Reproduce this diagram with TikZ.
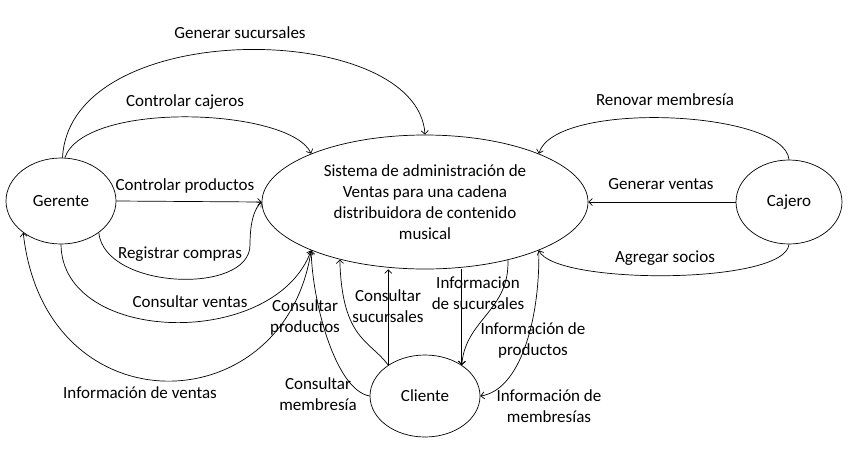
\documentclass[tikz,border=0pt]{standalone}
\usepackage{fontspec}
\setmainfont{Carlito}
\usetikzlibrary{positioning, arrows.meta, shapes.geometric}

\begin{document}
\begin{tikzpicture}[
  x=1pt, y=-1pt,
  font=\fontsize{17}{21}\selectfont,
  actor/.style={ellipse, draw, line width=0.7pt, inner sep=0pt, align=center},
  lbl/.style={align=center, inner sep=1pt},
  arr/.style={-{Straight Barb[length=3.5pt,width=7pt]}, line width=0.7pt}
]
  \useasboundingbox (0,0) rectangle (852,448);
  % entidades
  \node[actor, minimum width=110, minimum height=86] (ger) at (61,201) {Gerente};
  \node[actor, minimum width=326, minimum height=134] (sis) at (425,202) {Sistema de administración de\\Ventas para una cadena\\distribuidora de contenido\\musical};
  \node[actor, minimum width=106, minimum height=84] (caj) at (789,202) {Cajero};
  \node[actor, minimum width=110, minimum height=82] (cli) at (425,396) {Cliente};
  % etiquetas
  \node[lbl] (l1) at (240,33) {Generar sucursales};
  \node[lbl] (l2) at (185,102) {Controlar cajeros};
  \node[lbl] (l3) at (185,186) {Controlar productos};
  \node[lbl] (l4) at (180,254) {Registrar compras};
  \node[lbl] (l5) at (190,302) {Consultar ventas};
  \node[lbl] (l6) at (140,393) {Información de ventas};
  \node[lbl] (l7) at (665,100) {Renovar membresía};
  \node[lbl] (l8) at (661,184) {Generar ventas};
  \node[lbl] (l9) at (665,258) {Agregar socios};
  \node[lbl] (l10) at (305,317) {Consultar\\productos};
  \node[lbl] (l11) at (388,306) {Consultar\\sucursales};
  \node[lbl] (l12) at (478,293) {Informacion\\de sucursales};
  \node[lbl] (l13) at (533,340) {Información de\\productos};
  \node[lbl] (l14) at (318,394) {Consultar\\membresía};
  \node[lbl] (l15) at (549,406) {Información de\\membresías};
  % flujos del gerente
  \draw[arr] (ger.88) .. controls (70,15) and (418,20) .. (sis.north);
  \draw[arr] (ger.85) .. controls (85,100) and (290,108) .. (sis.157);
  \draw[arr] (ger.east) -- (sis.west);
  \draw[arr] (ger.-40) .. controls (105,290) and (250,295) .. (250,245) .. controls (250,220) and (255,208) .. (sis.west);
  \draw[arr] (ger.south) .. controls (62,345) and (275,350) .. (sis.203);
  \draw[arr] (sis.203) .. controls (285,425) and (45,430) .. (ger.220);
  % flujos del cajero
  \draw[arr] (caj.north) .. controls (785,110) and (555,100) .. (sis.23);
  \draw[arr] (caj.west) -- (sis.east);
  \draw[arr] (caj.south) .. controls (785,285) and (555,285) .. (sis.-23);
  % flujos del cliente
  \draw[arr] (cli.west) .. controls (335,390) and (312,300) .. (sis.203);
  \draw[arr] (cli.140) .. controls (370,340) and (342,340) .. (sis.214);
  \draw[arr] (cli.140) -- (cli.140 |- sis.south);
  \draw[arr] (sis.south -| cli.40) -- (cli.40);
  \draw[arr] (sis.-35) .. controls (510,310) and (465,320) .. (cli.40);
  \draw[arr] (sis.-23) .. controls (540,320) and (520,390) .. (cli.east);
\end{tikzpicture}
\end{document}
